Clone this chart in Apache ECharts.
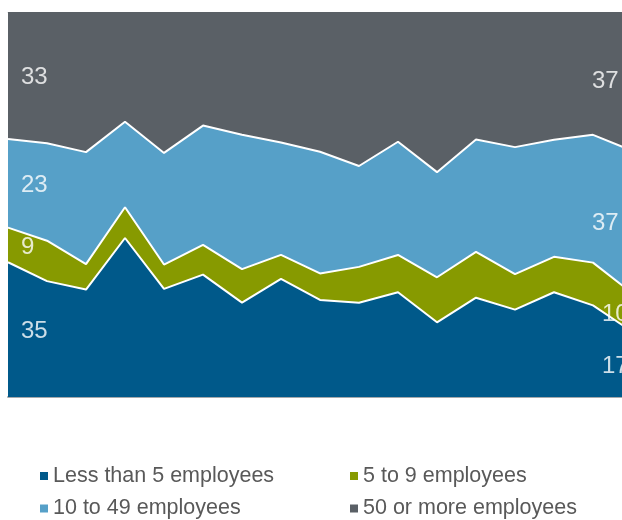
<!DOCTYPE html>
<html>
<head>
<meta charset="utf-8">
<style>
  html, body { margin: 0; padding: 0; background: #ffffff; }
  #chart { width: 622px; height: 520px; }
</style>
<script src="https://cdn.jsdelivr.net/npm/echarts@6/dist/echarts.min.js"></script>
</head>
<body>
<div id="chart"></div>
<script>
// Share of firms by size band (percent), one value per period
const categories = ['1', '2', '3', '4', '5', '6', '7', '8', '9', '10', '11', '12', '13', '14', '15', '16', '17'];
const lessThan5 = [35, 30.1, 27.9, 41.3, 28.1, 31.8, 24.5, 30.7, 25.2, 24.5, 27.2, 19.4, 25.8, 22.7, 27.2, 23.8, 17];
const fiveTo9 = [9, 10.5, 6.6, 8.0, 6.3, 7.7, 8.7, 6.2, 6.9, 9.3, 9.7, 11.7, 11.9, 9.2, 9.2, 11.1, 10];
const tenTo49 = [23, 25.3, 29.1, 22.2, 29.0, 31.0, 34.9, 29.2, 31.6, 26.2, 29.4, 27.3, 29.2, 33.0, 30.4, 33.2, 37];
const fiftyPlus = [33, 34.1, 36.4, 28.5, 36.6, 29.5, 31.9, 33.9, 36.3, 40.0, 33.7, 41.6, 33.1, 35.1, 33.2, 31.9, 37];

const seriesNames = ['Less than 5 employees', '5 to 9 employees', '10 to 49 employees', '50 or more employees'];
const seriesData = [lessThan5, fiveTo9, tenTo49, fiftyPlus];
const colors = ['#00598A', '#879A00', '#56A0C8', '#5A6066'];

const chart = echarts.init(document.getElementById('chart'), null, { renderer: 'canvas' });

const areaSeries = seriesData.map((data, i) => ({
  name: seriesNames[i],
  type: 'line',
  stack: 'share',
  data: data,
  z: 10 - i,
  showSymbol: false,
  symbol: 'none',
  silent: true,
  lineStyle: i < 3 ? { color: '#ffffff', width: 2 } : { width: 0, opacity: 0 },
  areaStyle: { color: colors[i], opacity: 1 },
  itemStyle: { color: colors[i] }
}));

// End-of-range value labels, centred in each band
const first = 0;
const last = categories.length - 1;
const rightOffsets = [-30, -30, -40, -40];
const labelPoints = [];
seriesData.forEach((data, i) => {
  [first, last].forEach(idx => {
    let below = 0;
    for (let k = 0; k < i; k++) below += seriesData[k][idx];
    const v = data[idx];
    labelPoints.push({
      value: [categories[idx], below + v / 2],
      label: {
        formatter: String(Math.round(v)),
        offset: idx === first ? [13, 2] : [rightOffsets[i], 2]
      }
    });
  });
});

const legendBase = {
  icon: 'rect',
  itemWidth: 8,
  itemHeight: 8,
  padding: 0,
  selectedMode: false,
  textStyle: { color: '#595959', fontSize: 21.5, fontFamily: 'Liberation Sans, Arial, sans-serif' }
};

chart.setOption({
  animation: false,
  color: colors,
  grid: { left: 8, top: 12, width: 624, height: 385, outerBoundsMode: 'none', containLabel: false },
  xAxis: [
    {
      type: 'category',
      data: categories,
      boundaryGap: false,
      position: 'bottom',
      axisLine: { show: true, lineStyle: { color: '#A5A8AB', width: 2 } },
      axisTick: { show: false },
      axisLabel: { show: false },
      splitLine: { show: false }
    },
    {
      type: 'category',
      data: categories,
      boundaryGap: false,
      position: 'top',
      axisLine: { show: true, lineStyle: { color: '#C9CBCD', width: 1 } },
      axisTick: { show: false },
      axisLabel: { show: false },
      splitLine: { show: false }
    }
  ],
  yAxis: {
    type: 'value',
    min: 0,
    max: 100,
    show: false
  },
  legend: [
    Object.assign({}, legendBase, { left: 40, top: 465, data: [seriesNames[0]] }),
    Object.assign({}, legendBase, { left: 350, top: 465, data: [seriesNames[1]] }),
    Object.assign({}, legendBase, { left: 40, top: 497.5, data: [seriesNames[2]] }),
    Object.assign({}, legendBase, { left: 350, top: 497.5, data: [seriesNames[3]] })
  ],
  series: areaSeries.concat([{
    type: 'scatter',
    name: 'values',
    z: 20,
    silent: true,
    symbolSize: 1,
    itemStyle: { color: 'transparent' },
    data: labelPoints,
    label: {
      show: true,
      position: 'inside',
      align: 'left',
      verticalAlign: 'middle',
      color: '#ffffff',
      fontSize: 24,
      fontFamily: 'Liberation Sans, Arial, sans-serif'
    }
  }])
});
</script>
</body>
</html>
